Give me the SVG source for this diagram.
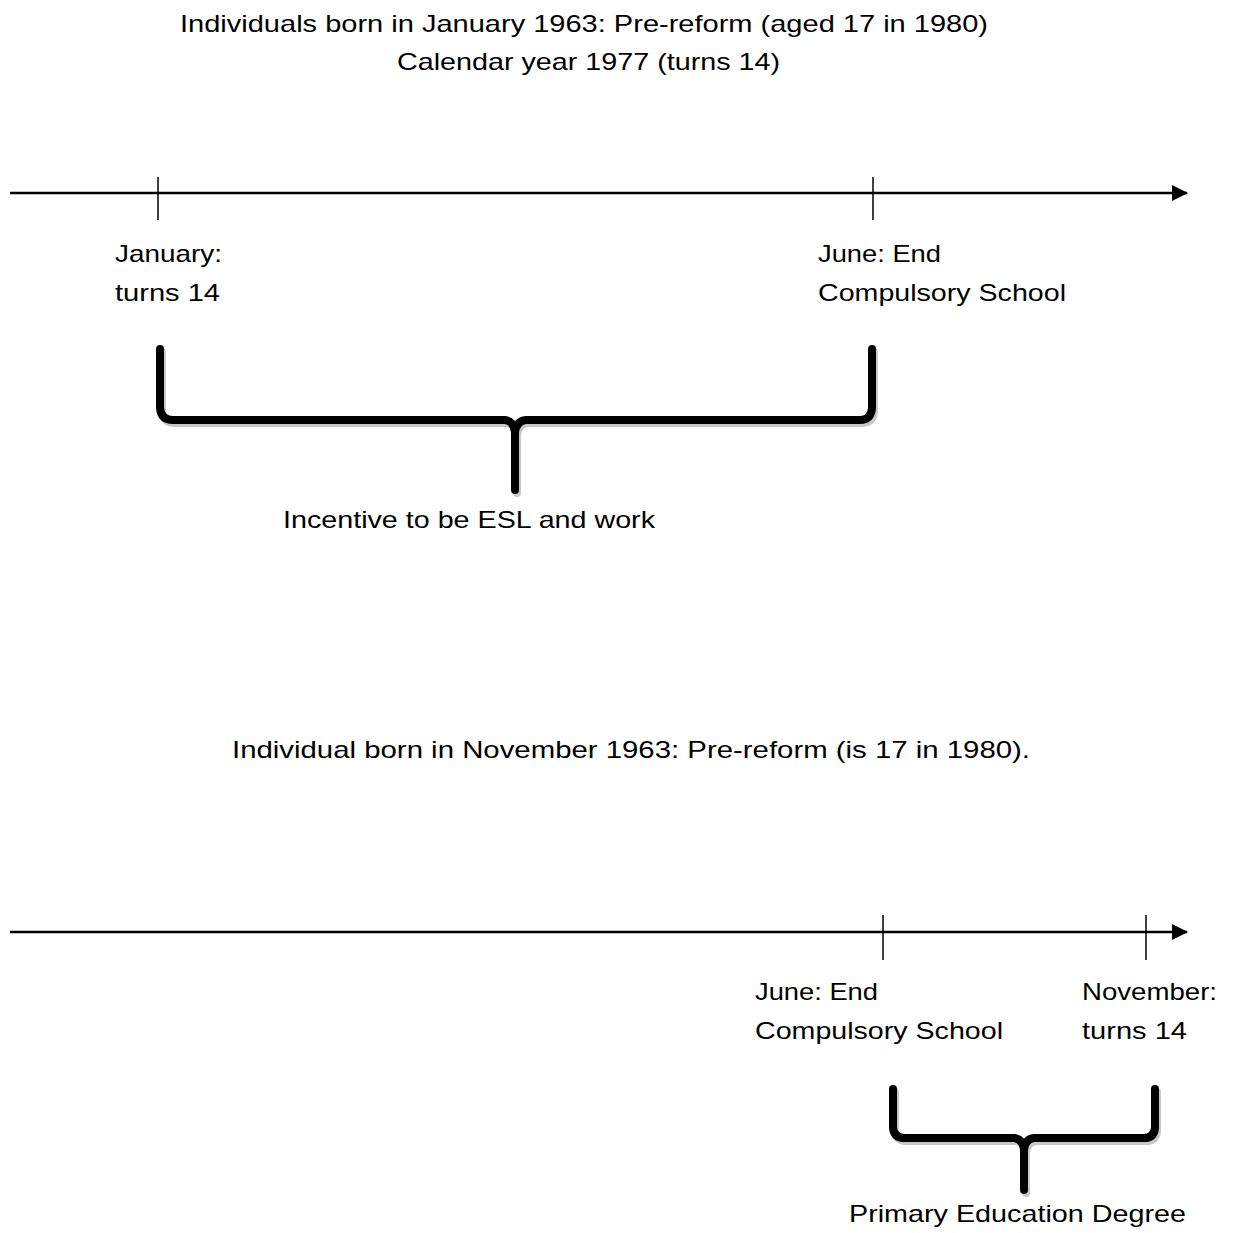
<svg xmlns="http://www.w3.org/2000/svg" width="1233" height="1233" viewBox="0 0 1233 1233">
<defs>
<marker id="arr" markerWidth="16" markerHeight="16" refX="15" refY="8" orient="auto" markerUnits="userSpaceOnUse"><path d="M0,0 L16,8 L0,16 Z" fill="#000"/></marker>
<style>
text{font-family:"Liberation Sans",Arial,sans-serif;font-size:24px;fill:#000}
.axis{stroke:#000;stroke-width:2.5;fill:none}
.tick{stroke:#000;stroke-width:1.5}
.br{fill:none;stroke:#000;stroke-width:8;stroke-linecap:round;stroke-linejoin:round}
.sh{fill:none;stroke:#c8c8c8;stroke-width:8;stroke-linecap:round;stroke-linejoin:round}
</style>
</defs>
<rect width="1233" height="1233" fill="#fff"/>
<g id="title1">
<text x="180" y="32" textLength="808" lengthAdjust="spacingAndGlyphs">Individuals born in January 1963: Pre-reform (aged 17 in 1980)</text>
<text x="397" y="70" textLength="383" lengthAdjust="spacingAndGlyphs">Calendar year 1977 (turns 14)</text>
</g>
<g id="connectors">
<line class="axis" x1="10" y1="193" x2="1187" y2="193" marker-end="url(#arr)"/>
<line class="tick" x1="158" y1="177" x2="158" y2="220"/>
<line class="tick" x1="873" y1="177" x2="873" y2="220"/>
<line class="axis" x1="10" y1="932" x2="1187" y2="932" marker-end="url(#arr)"/>
<line class="tick" x1="883" y1="915" x2="883" y2="960"/>
<line class="tick" x1="1146" y1="915" x2="1146" y2="960"/>
</g>
<g id="jan-label">
<text x="115" y="262" textLength="107" lengthAdjust="spacingAndGlyphs">January:</text>
<text x="115" y="301" textLength="105" lengthAdjust="spacingAndGlyphs">turns 14</text>
</g>
<g id="june-label-1">
<text x="818" y="262" textLength="123" lengthAdjust="spacingAndGlyphs">June: End</text>
<text x="818" y="301" textLength="248" lengthAdjust="spacingAndGlyphs">Compulsory School</text>
</g>
<g id="brace1">
<path class="sh" transform="translate(2,3)" d="M160,349 L160,408 Q161,420 173,420 L505,420 Q514,421 515,433 L515,490 M515,490 L515,433 Q516,421 526,420 L860,420 Q871,420 872,408 L872,349"/>
<path class="br" d="M160,349 L160,408 Q161,420 173,420 L505,420 Q514,421 515,433 L515,490 M515,490 L515,433 Q516,421 526,420 L860,420 Q871,420 872,408 L872,349"/>
<text x="283" y="528" textLength="372" lengthAdjust="spacingAndGlyphs">Incentive to be ESL and work</text>
</g>
<g id="title2">
<text x="232" y="758" textLength="798" lengthAdjust="spacingAndGlyphs">Individual born in November 1963: Pre-reform (is 17 in 1980).</text>
</g>
<g id="june-label-2">
<text x="755" y="1000" textLength="123" lengthAdjust="spacingAndGlyphs">June: End</text>
<text x="755" y="1039" textLength="248" lengthAdjust="spacingAndGlyphs">Compulsory School</text>
</g>
<g id="nov-label">
<text x="1082" y="1000" textLength="135" lengthAdjust="spacingAndGlyphs">November:</text>
<text x="1082" y="1039" textLength="105" lengthAdjust="spacingAndGlyphs">turns 14</text>
</g>
<g id="brace2">
<path class="sh" transform="translate(2,3)" d="M893,1089 L893,1128 Q894,1138 905,1138 L1014,1138 Q1023,1139 1024,1150 L1024,1190 M1024,1190 L1024,1150 Q1025,1139 1034,1138 L1144,1138 Q1154,1138 1155,1128 L1155,1089"/>
<path class="br" d="M893,1089 L893,1128 Q894,1138 905,1138 L1014,1138 Q1023,1139 1024,1150 L1024,1190 M1024,1190 L1024,1150 Q1025,1139 1034,1138 L1144,1138 Q1154,1138 1155,1128 L1155,1089"/>
<text x="849" y="1222" textLength="337" lengthAdjust="spacingAndGlyphs">Primary Education Degree</text>
</g>
</svg>
